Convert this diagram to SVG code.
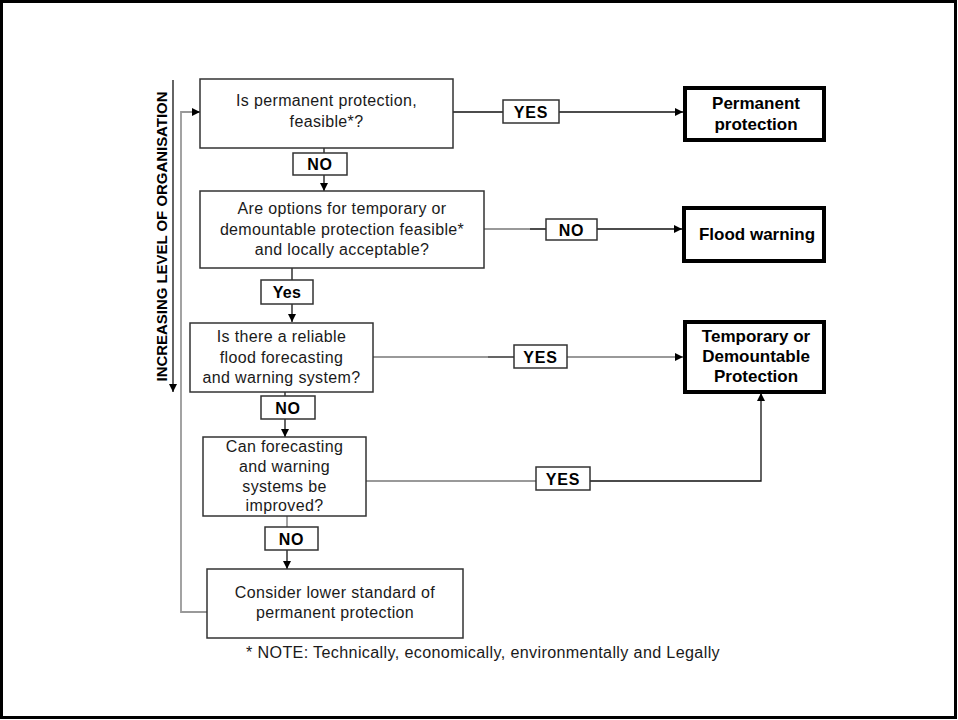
<svg xmlns="http://www.w3.org/2000/svg" width="958" height="720" viewBox="0 0 958 720">
<style>
  .box{fill:#fff;stroke:#333;stroke-width:1.5}
  .term{fill:#fff;stroke:#000;stroke-width:4}
  .lbl{fill:#fff;stroke:#333;stroke-width:1.5}
  .t{font-family:"Liberation Sans",Arial,sans-serif;font-size:16px;fill:#1a1a1a;text-anchor:middle;letter-spacing:0.35px}
  .tb{font-family:"Liberation Sans",Arial,sans-serif;font-size:17px;font-weight:bold;fill:#000;text-anchor:middle}
  .lt{font-family:"Liberation Sans",Arial,sans-serif;font-size:16px;font-weight:bold;fill:#000;text-anchor:middle;letter-spacing:0.8px}
  .k{fill:none;stroke:#111;stroke-width:1.3}
  .g{fill:none;stroke:#999;stroke-width:1.8}
</style>
<defs>
  <marker id="ah" viewBox="0 0 10 10" refX="10" refY="5" markerWidth="9" markerHeight="8" markerUnits="userSpaceOnUse" orient="auto">
    <path d="M0,0 L10,5 L0,10 z" fill="#000"/>
  </marker>
</defs>
<rect x="0" y="0" width="958" height="720" fill="#fff"/>
<rect x="1.5" y="1.5" width="954" height="716" fill="none" stroke="#000" stroke-width="3"/>

<g id="axis">
  <path class="k" d="M173,80 V392" marker-end="url(#ah)"/>
  <text class="tb" style="font-size:14px" transform="translate(166.5,236.5) rotate(-90)" textLength="290" lengthAdjust="spacingAndGlyphs">INCREASING LEVEL OF  ORGANISATION</text>
</g>

<g id="connectors">
  <path class="k" d="M453,112 H683" marker-end="url(#ah)"/>
  <path class="k" d="M324,148 V191" marker-end="url(#ah)"/>
  <path class="g" d="M484,229 H530"/>
  <path class="k" d="M530,229 H682" marker-end="url(#ah)"/>
  <path class="k" d="M292,268 V322" marker-end="url(#ah)"/>
  <path class="g" d="M373,357 H488"/>
  <path class="k" d="M488,357 H514"/>
  <path class="g" d="M567,357 H683" marker-end="url(#ah)"/>
  <path class="k" d="M285,392 V437" marker-end="url(#ah)"/>
  <path class="g" d="M366,481 H536"/>
  <path class="k" d="M590,481 H761 V393" marker-end="url(#ah)"/>
  <path class="g" d="M287,516 V527"/>
  <path class="k" d="M287,550 V569" marker-end="url(#ah)"/>
  <path class="g" d="M207,612 H181 V112 H193"/>
  <path class="k" d="M193,112 H200" marker-end="url(#ah)"/>
</g>

<g id="labels">
  <g id="lbl-yes1"><rect class="lbl" x="503" y="100" width="56" height="23"/><text class="lt" x="531" y="117.5">YES</text></g>
  <g id="lbl-no1"><rect class="lbl" x="293" y="153" width="54" height="22"/><text class="lt" x="320" y="170">NO</text></g>
  <g id="lbl-no2"><rect class="lbl" x="546" y="219" width="51" height="21"/><text class="lt" x="571.5" y="235.5">NO</text></g>
  <g id="lbl-yes2"><rect class="lbl" x="261" y="280" width="52" height="24"/><text class="lt" x="287" y="298" style="letter-spacing:0.3px">Yes</text></g>
  <g id="lbl-yes3"><rect class="lbl" x="514" y="345" width="53" height="23"/><text class="lt" x="540.5" y="362.5">YES</text></g>
  <g id="lbl-no3"><rect class="lbl" x="261" y="396" width="54" height="23"/><text class="lt" x="288" y="413.5">NO</text></g>
  <g id="lbl-yes4"><rect class="lbl" x="536" y="467" width="54" height="23"/><text class="lt" x="563" y="484.5">YES</text></g>
  <g id="lbl-no4"><rect class="lbl" x="265" y="527" width="53" height="23"/><text class="lt" x="291.5" y="544.5">NO</text></g>
</g>

<g id="q1">
  <rect class="box" x="200" y="79" width="253" height="69"/>
  <text class="t" x="326.5" y="106">Is permanent protection,</text>
  <text class="t" x="326.5" y="127">feasible*?</text>
</g>
<g id="q2">
  <rect class="box" x="200" y="191" width="284" height="77"/>
  <text class="t" x="342" y="214">Are options for temporary or</text>
  <text class="t" x="342" y="235">demountable protection feasible*</text>
  <text class="t" x="342" y="255">and locally acceptable?</text>
</g>
<g id="q3">
  <rect class="box" x="190" y="323" width="183" height="69"/>
  <text class="t" x="281.5" y="342">Is there a reliable</text>
  <text class="t" x="281.5" y="363">flood forecasting</text>
  <text class="t" x="281.5" y="383">and warning system?</text>
</g>
<g id="q4">
  <rect class="box" x="203" y="437" width="163" height="79"/>
  <text class="t" x="284.5" y="452">Can forecasting</text>
  <text class="t" x="284.5" y="472">and warning</text>
  <text class="t" x="284.5" y="492">systems be</text>
  <text class="t" x="284.5" y="511">improved?</text>
</g>
<g id="q5">
  <rect class="box" x="207" y="569" width="256" height="69"/>
  <text class="t" x="335" y="598">Consider lower standard of</text>
  <text class="t" x="335" y="618">permanent protection</text>
</g>

<g id="r-permanent">
  <rect class="term" x="685" y="88" width="139" height="52"/>
  <text class="tb" x="756" y="109">Permanent</text>
  <text class="tb" x="756" y="130">protection</text>
</g>
<g id="r-flood">
  <rect class="term" x="684" y="208" width="140" height="53"/>
  <text class="tb" x="757" y="240">Flood warning</text>
</g>
<g id="r-temporary">
  <rect class="term" x="685" y="322" width="139" height="70"/>
  <text class="tb" x="756" y="342">Temporary or</text>
  <text class="tb" x="756" y="362">Demountable</text>
  <text class="tb" x="756" y="382">Protection</text>
</g>

<text class="t" x="483" y="658" textLength="474" lengthAdjust="spacingAndGlyphs">* NOTE: Technically, economically, environmentally and Legally</text>
</svg>
